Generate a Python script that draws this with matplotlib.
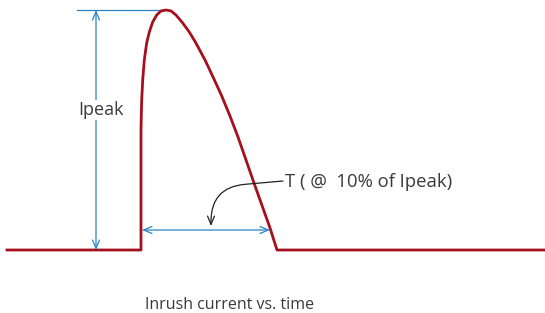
import matplotlib
matplotlib.use("Agg")
import matplotlib.pyplot as plt

# -----------------------------------
# Inrush current shape (time in arbitrary units, current as fraction of Ipeak)
# -----------------------------------
time_pts = [7, 141, 141, 141.3, 141.7, 142.7, 144.3, 146.7, 149.3, 152.7,
            156.7, 161, 166, 171, 176, 182.7, 189.3, 195.3, 205, 213,
            221.7, 230, 238, 254, 270, 277, 545]
current_pts = [0, 0, 0.5, 0.563, 0.625, 0.708, 0.792, 0.863, 0.908, 0.95,
               0.979, 0.996, 1.0, 0.996, 0.979, 0.946, 0.908, 0.867, 0.792, 0.721,
               0.642, 0.558, 0.471, 0.279, 0.092, 0, 0]

t_rise = 141        # start of inrush
t_fall = 270        # time at 10% of Ipeak
t_peak_marker = 96  # x position of the Ipeak dimension arrow

peak_label = "Ipeak"
t_label = "T ( @  10% of Ipeak)"
caption = "Inrush current vs. time"

red = "#a50f1e"
blue = "#2a83c9"
grey = "#3a3a3a"
plt.rcParams["font.family"] = ["Open Sans", "DejaVu Sans"]

fig = plt.figure(figsize=(5.45, 3.13), dpi=100)
ax = fig.add_axes([0, 0, 1, 1])
ax.set_xlim(0, 545)
ax.set_ylim(-63 / 240, 250 / 240)
ax.axis("off")

ax.plot(time_pts, current_pts, color=red, lw=2.0, solid_joinstyle="round", zorder=3)

# Ipeak dimension
ax.plot([77, 160], [1, 1], color=blue, lw=0.9)
ax.annotate("", xy=(t_peak_marker, 1), xytext=(t_peak_marker, 0),
            arrowprops=dict(arrowstyle="<->,head_length=0.6,head_width=0.25",
                            color=blue, lw=0.9, shrinkA=0, shrinkB=0))
ax.text(100.5, (250 - 115) / 240, peak_label, ha="center", va="baseline",
        fontsize=13, color=grey,
        bbox=dict(facecolor="white", edgecolor="none", pad=1))

# T dimension
y_t = (250 - 230) / 240
ax.annotate("", xy=(t_fall, y_t), xytext=(t_rise + 1, y_t),
            arrowprops=dict(arrowstyle="<->,head_length=0.6,head_width=0.25",
                            color=blue, lw=0.9, shrinkA=0, shrinkB=0))
ax.annotate("", xy=(211, (250 - 226) / 240), xytext=(283, (250 - 181) / 240),
            arrowprops=dict(arrowstyle="->,head_length=0.6,head_width=0.25",
                            color="#222222", lw=0.9, shrinkA=0, shrinkB=0,
                            connectionstyle="angle,angleA=5,angleB=90,rad=34"))
ax.text(285, (250 - 187) / 240, t_label, ha="left", va="baseline",
        fontsize=13.3, color=grey)

ax.text(229.5, (250 - 309) / 240, caption, ha="center", va="baseline",
        fontsize=11.5, color=grey)

fig.savefig("out.png", dpi=100)
